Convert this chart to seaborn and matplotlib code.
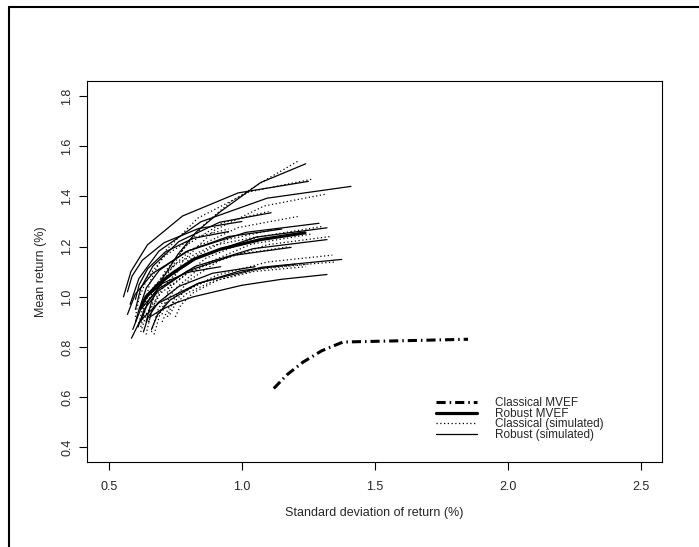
import pandas as pd
import seaborn as sns
import matplotlib.pyplot as plt
from matplotlib.lines import Line2D

# classical mean-variance efficient frontier
classical_sd = [1.12, 1.17, 1.23, 1.30, 1.38, 1.60, 1.85]
classical_mean = [0.635, 0.69, 0.74, 0.785, 0.82, 0.825, 0.831]

# robust mean-variance efficient frontier
robust_sd = [0.618, 0.64, 0.68, 0.74, 0.82, 0.92, 1.07, 1.237]
robust_mean = [0.955, 1.0, 1.045, 1.095, 1.15, 1.19, 1.228, 1.255]

# robust frontiers from simulated samples
robust_sim_sd = [
    [0.64, 0.66, 0.70, 0.76, 0.83, 0.92, 1.07, 1.24],
    [0.555, 0.583, 0.645, 0.777, 0.986, 1.25],
    [0.58, 0.613, 0.688, 0.846, 1.095, 1.41],
    [0.60, 0.620, 0.666, 0.763, 0.916, 1.11],
    [0.57, 0.599, 0.664, 0.80, 1.016, 1.29],
    [0.62, 0.648, 0.711, 0.844, 1.054, 1.32],
    [0.59, 0.619, 0.685, 0.824, 1.043, 1.32],
    [0.61, 0.633, 0.685, 0.794, 0.967, 1.185],
    [0.585, 0.617, 0.688, 0.838, 1.075, 1.375],
    [0.655, 0.693, 0.75, 0.817, 1.0, 1.15, 1.32],
    [0.60, 0.614, 0.646, 0.712, 0.817, 0.95],
    [0.63, 0.647, 0.685, 0.764, 0.89, 1.05],
    [0.57, 0.587, 0.626, 0.708, 0.837, 1.0],
    [0.66, 0.682, 0.730, 0.833, 0.995, 1.20],
    [0.62, 0.641, 0.689, 0.79, 0.949, 1.15],
    [0.60, 0.613, 0.642, 0.702, 0.798, 0.92],
]
robust_sim_mean = [
    [0.90, 0.98, 1.07, 1.17, 1.26, 1.34, 1.455, 1.53],
    [1.0, 1.101, 1.207, 1.322, 1.414, 1.46],
    [0.97, 1.073, 1.182, 1.299, 1.393, 1.44],
    [0.95, 1.035, 1.123, 1.22, 1.297, 1.335],
    [0.93, 1.01, 1.093, 1.184, 1.257, 1.293],
    [0.90, 0.983, 1.069, 1.163, 1.238, 1.275],
    [0.87, 0.949, 1.031, 1.121, 1.192, 1.228],
    [0.88, 0.950, 1.023, 1.102, 1.165, 1.197],
    [0.835, 0.904, 0.976, 1.055, 1.118, 1.149],
    [0.92, 0.946, 0.975, 1.0, 1.046, 1.07, 1.089],
    [0.99, 1.049, 1.112, 1.179, 1.233, 1.26],
    [0.86, 0.917, 0.977, 1.042, 1.094, 1.12],
    [1.02, 1.082, 1.146, 1.216, 1.272, 1.30],
    [0.87, 0.927, 0.987, 1.052, 1.104, 1.13],
    [0.97, 1.036, 1.105, 1.18, 1.24, 1.27],
    [0.90, 0.948, 0.999, 1.054, 1.098, 1.12],
]

# classical frontiers from simulated samples
classical_sim_sd = [
    [0.65, 0.68, 0.72, 0.78, 0.86, 0.96, 1.08, 1.21],
    [0.63, 0.656, 0.713, 0.835, 1.027, 1.27],
    [0.70, 0.725, 0.781, 0.898, 1.084, 1.32],
    [0.62, 0.644, 0.697, 0.809, 0.986, 1.21],
    [0.66, 0.686, 0.743, 0.865, 1.057, 1.30],
    [0.72, 0.744, 0.799, 0.915, 1.098, 1.33],
    [0.64, 0.66, 0.704, 0.797, 0.944, 1.13],
    [0.70, 0.726, 0.783, 0.905, 1.097, 1.34],
    [0.68, 0.707, 0.767, 0.894, 1.095, 1.35],
    [0.75, 0.77, 0.815, 0.91, 1.06, 1.25],
    [0.61, 0.628, 0.669, 0.754, 0.889, 1.06],
    [0.62, 0.642, 0.693, 0.799, 0.967, 1.18],
    [0.65, 0.668, 0.709, 0.794, 0.929, 1.10],
    [0.60, 0.614, 0.646, 0.712, 0.817, 0.95],
    [0.73, 0.75, 0.796, 0.893, 1.046, 1.24],
    [0.67, 0.694, 0.747, 0.859, 1.036, 1.26],
]
classical_sim_mean = [
    [0.90, 1.00, 1.09, 1.19, 1.29, 1.38, 1.46, 1.54],
    [0.95, 1.064, 1.184, 1.314, 1.418, 1.47],
    [0.93, 1.036, 1.146, 1.266, 1.362, 1.41],
    [0.88, 0.977, 1.078, 1.188, 1.276, 1.32],
    [0.86, 0.952, 1.049, 1.154, 1.238, 1.28],
    [0.92, 0.990, 1.064, 1.144, 1.208, 1.24],
    [0.85, 0.942, 1.039, 1.144, 1.228, 1.27],
    [0.90, 0.959, 1.02, 1.086, 1.139, 1.166],
    [0.92, 0.968, 1.019, 1.073, 1.117, 1.139],
    [0.92, 0.966, 1.015, 1.067, 1.109, 1.13],
    [0.88, 0.959, 1.042, 1.132, 1.204, 1.24],
    [0.86, 0.935, 1.013, 1.098, 1.166, 1.20],
    [0.90, 0.997, 1.098, 1.208, 1.296, 1.34],
    [0.92, 0.997, 1.078, 1.165, 1.235, 1.27],
    [0.93, 0.972, 1.016, 1.063, 1.101, 1.12],
    [0.85, 0.938, 1.03, 1.13, 1.21, 1.25],
]

legend_labels = ["Classical MVEF", "Robust MVEF", "Classical (simulated)", "Robust (simulated)"]


def to_long(sds, means):
    rows = []
    for run, (xs, ys) in enumerate(zip(sds, means)):
        for x, y in zip(xs, ys):
            rows.append((run, x, y))
    return pd.DataFrame(rows, columns=["run", "sd", "mean"])


sns.set_theme(style="white")
plt.rcParams["font.family"] = ["Liberation Sans", "DejaVu Sans"]
plt.rcParams["font.size"] = 9

dotdash = (0, (3, 1.3, 0.5, 1.3))
dotted = (0, (1, 2))

fig = plt.figure(figsize=(6.99, 5.47), dpi=100)
ax = fig.add_axes([0.1245, 0.1563, 0.8225, 0.6957])

sns.lineplot(data=to_long(classical_sim_sd, classical_sim_mean), x="sd", y="mean",
             units="run", estimator=None, sort=False, color="black",
             lw=0.9, linestyle=dotted, ax=ax, legend=False)
sns.lineplot(data=to_long(robust_sim_sd, robust_sim_mean), x="sd", y="mean",
             units="run", estimator=None, sort=False, color="black",
             lw=0.9, ax=ax, legend=False)
sns.lineplot(x=robust_sd, y=robust_mean, sort=False, color="black", lw=2.3, ax=ax)
sns.lineplot(x=classical_sd, y=classical_mean, sort=False, color="black",
             lw=2.2, linestyle=dotdash, ax=ax)

ax.set_xlim(0.418, 2.579)
ax.set_ylim(0.344, 1.86)
ax.set_xticks([0.5, 1.0, 1.5, 2.0, 2.5])
ax.set_yticks([0.4, 0.6, 0.8, 1.0, 1.2, 1.4, 1.6, 1.8])
ax.set_xticklabels(["0.5", "1.0", "1.5", "2.0", "2.5"])
ax.set_yticklabels(["0.4", "0.6", "0.8", "1.0", "1.2", "1.4", "1.6", "1.8"],
                   rotation=90, va="center")
ax.tick_params(direction="out", length=6, width=0.8, color="black",
               labelsize=9, bottom=True, left=True)
ax.tick_params(axis="x", pad=8)
ax.tick_params(axis="y", pad=4)
for sp in ax.spines.values():
    sp.set_color("black")
    sp.set_linewidth(0.8)

ax.set_xlabel("Standard deviation of return (%)", fontsize=9, labelpad=10)
ax.set_ylabel("Mean return (%)", fontsize=9, labelpad=10)

handles = [
    Line2D([], [], color="black", lw=2.2, linestyle=dotdash),
    Line2D([], [], color="black", lw=2.3),
    Line2D([], [], color="black", lw=0.9, linestyle=dotted),
    Line2D([], [], color="black", lw=0.9),
]
ax.legend(handles, legend_labels, loc="lower left", bbox_to_anchor=(0.607, 0.054),
          frameon=False, fontsize=8.5, handlelength=3.47, handletextpad=1.52,
          labelspacing=-0.12, borderpad=0, borderaxespad=0)

# partial outer frame of the original device
fig.add_artist(Line2D([9 / 699, 1], [1 - 7 / 547, 1 - 7 / 547],
                      transform=fig.transFigure, color="black", lw=1.5))
fig.add_artist(Line2D([9 / 699, 9 / 699], [0, 1 - 7 / 547],
                      transform=fig.transFigure, color="black", lw=1.5))

fig.savefig("out.png", dpi=100)
